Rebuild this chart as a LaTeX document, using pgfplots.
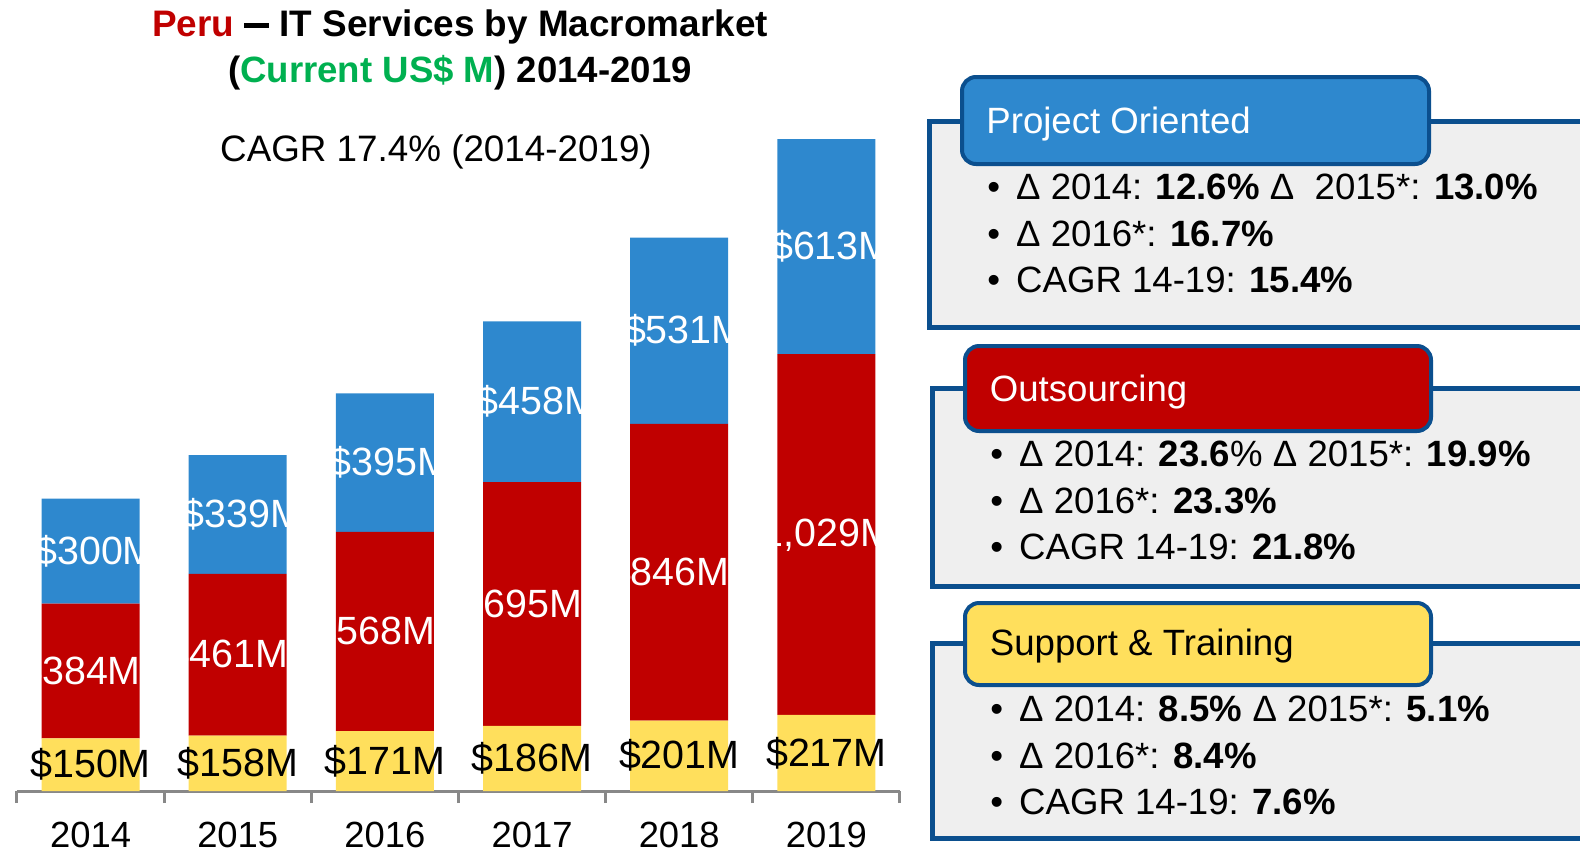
\documentclass[border=0pt]{standalone}
\usepackage{pgfplots}
\pgfplotsset{compat=1.18}
\usepackage{pgfplotstable}
\usepackage{fontspec}
\setmainfont{Liberation Sans}
\definecolor{pblue}{HTML}{2E88CE}
\definecolor{pred}{HTML}{C00000}
\definecolor{pyellow}{HTML}{FFDF5C}
\definecolor{bdr}{HTML}{0B4F8E}
\definecolor{boxfill}{HTML}{EFEFEF}
\definecolor{cgreen}{HTML}{00B050}
\definecolor{axgray}{HTML}{888888}

\pgfplotstableread{
x sup out proj
0 150 384 300
1 158 461 339
2 171 568 395
3 186 695 458
4 201 846 531
5 217 1029 613
}\datatable

\newcommand{\bigf}{\fontsize{18.3}{22}\selectfont}
\newcommand{\bul}{•\hspace{8pt}}
\begin{document}
\begin{tikzpicture}
\useasboundingbox (0,0) rectangle (790pt,-426.5pt);
\begin{axis}[
  at={(8.5pt,-395.5pt)}, anchor=south west,
  scale only axis, width=441.5pt, height=326pt,
  xmin=-0.5, xmax=5.5, ymin=0, ymax=1859,
  enlargelimits=false, clip=false,
  ybar stacked, bar width=49pt,
  axis x line*=bottom, axis y line=none,
  x axis line style={axgray, line width=1.5pt},
  xtick={0,...,5}, xticklabels={2014,2015,2016,2017,2018,2019},
  major tick length=0pt,
  minor xtick={-0.5,0.5,...,5.5}, minor tick length=6pt,
  tick align=outside,
  minor tick style={axgray, line width=1.5pt},
  major tick style={draw=none},
  xticklabel style={anchor=base, yshift=-28pt, font=\fontsize{18.2}{22}\selectfont, text=black},
  point meta=rawy,
  nodes near coords={\$\pgfmathprintnumber[assume math mode=true,1000 sep={,}]{\pgfplotspointmeta}M},
  every node near coord/.append style={anchor=center, font=\fontsize{19.7}{23}\selectfont},
]
\addplot[fill=pyellow, draw=none, every node near coord/.append style={text=black}] table[x=x, y=sup]{\datatable};
\addplot[fill=pred, draw=none, every node near coord/.append style={text=white, xshift=-5pt}] table[x=x, y=out]{\datatable};
\addplot[fill=pblue, draw=none, every node near coord/.append style={text=white, xshift=2.5pt}] table[x=x, y=proj]{\datatable};
\end{axis}

\begin{scope}[x=0.5pt, y=-0.5pt]
% titles
\node[anchor=base, font=\bfseries\fontsize{18.45}{22}\selectfont] at (460,36) {\textcolor{pred}{Peru} \rule[0.22em]{0.68em}{0.13em} IT Services by Macromarket};
\node[anchor=base, font=\bfseries\fontsize{18.3}{22}\selectfont] at (460,82.5) {(\textcolor{cgreen}{Current US\$ M}) 2014-2019};
\node[anchor=base, font=\fontsize{18.4}{22}\selectfont] at (436,161) {CAGR 17.4\% (2014-2019)};

% box 1
\draw[bdr, line width=2.5pt, fill=boxfill] (929,121) rectangle (1610,327);
\draw[bdr, line width=2pt, fill=pblue, rounded corners=7pt] (962,77) rectangle (1429,164);
\node[anchor=base west, inner sep=0, text=white, font=\bigf] at (986,133) {Project Oriented};
\node[anchor=base west, inner sep=0, font=\bigf] at (987,199.5) {\bul Δ 2014: \textbf{12.6\%} Δ\ \ 2015*: \textbf{13.0\%}};
\node[anchor=base west, inner sep=0, font=\bigf] at (987,246) {\bul Δ 2016*: \textbf{16.7\%}};
\node[anchor=base west, inner sep=0, font=\bigf] at (987,292) {\bul CAGR 14-19: \textbf{15.4\%}};

% box 2
\draw[bdr, line width=2.5pt, fill=boxfill] (932,388) rectangle (1610,586);
\draw[bdr, line width=2pt, fill=pred, rounded corners=7pt] (965,346) rectangle (1431,431);
\node[anchor=base west, inner sep=0, text=white, font=\bigf] at (989.5,401) {Outsourcing};
\node[anchor=base west, inner sep=0, font=\bigf] at (990,466.5) {\bul Δ 2014: \textbf{23.6}\% Δ 2015*: \textbf{19.9\%}};
\node[anchor=base west, inner sep=0, font=\bigf] at (990,513) {\bul Δ 2016*: \textbf{23.3\%}};
\node[anchor=base west, inner sep=0, font=\bigf] at (990,559) {\bul CAGR 14-19: \textbf{21.8\%}};

% box 3
\draw[bdr, line width=2.5pt, fill=boxfill] (932,643) rectangle (1610,838);
\draw[bdr, line width=2pt, fill=pyellow, rounded corners=7pt] (965,603) rectangle (1431,685);
\node[anchor=base west, inner sep=0, text=black, font=\bigf] at (989.5,655) {Support \& Training};
\node[anchor=base west, inner sep=0, font=\bigf] at (990,721.5) {\bul Δ 2014: \textbf{8.5\%} Δ 2015*: \textbf{5.1\%}};
\node[anchor=base west, inner sep=0, font=\bigf] at (990,768) {\bul Δ 2016*: \textbf{8.4\%}};
\node[anchor=base west, inner sep=0, font=\bigf] at (990,814) {\bul CAGR 14-19: \textbf{7.6\%}};
\end{scope}
\end{tikzpicture}
\end{document}
